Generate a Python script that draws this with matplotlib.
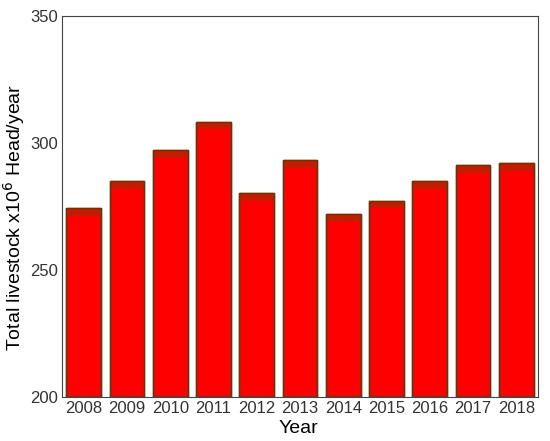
import numpy as np
import matplotlib.pyplot as plt

plt.rcParams['font.family'] = ['Liberation Sans', 'DejaVu Sans']

years = [2008, 2009, 2010, 2011, 2012, 2013, 2014, 2015, 2016, 2017, 2018]
livestock = [274.4, 285.0, 297.2, 308.3, 280.3, 293.3, 272.0, 277.2, 285.0, 291.3, 292.1]

fig = plt.figure(figsize=(5.5, 4.41), dpi=100)
ax = fig.add_axes([0.113, 0.1, 0.865, 0.864])

# main bars
ax.bar(years, np.array(livestock) - 200, bottom=200, width=0.8,
       color='#ff0000', edgecolor='#5a3a10', linewidth=1.0)
# darker band at top of each bar
ax.bar(years, 3, bottom=np.array(livestock) - 3, width=0.8,
       color='#c01e00', edgecolor='none')
ax.bar(years, np.array(livestock) - 200, bottom=200, width=0.8,
       color='none', edgecolor='#5a3a10', linewidth=1.0)

ax.set_xlim(2007.5, 2018.5)
ax.set_ylim(200, 350)
ax.set_yticks([200, 250, 300, 350])
ax.set_xticks(years)
ax.tick_params(length=0, labelsize=12, colors='#333333', pad=3)
for s in ax.spines.values():
    s.set_color('#444444')

ax.set_xlabel('Year', fontsize=14)
ax.xaxis.set_label_coords(0.455, -0.06)
ax.xaxis.label.set_horizontalalignment('left')
ax.set_ylabel('Total livestock x10$^6$ Head/year', fontsize=14)
ax.yaxis.set_label_coords(-0.074, 0.47)

fig.savefig('out.png', dpi=100)
